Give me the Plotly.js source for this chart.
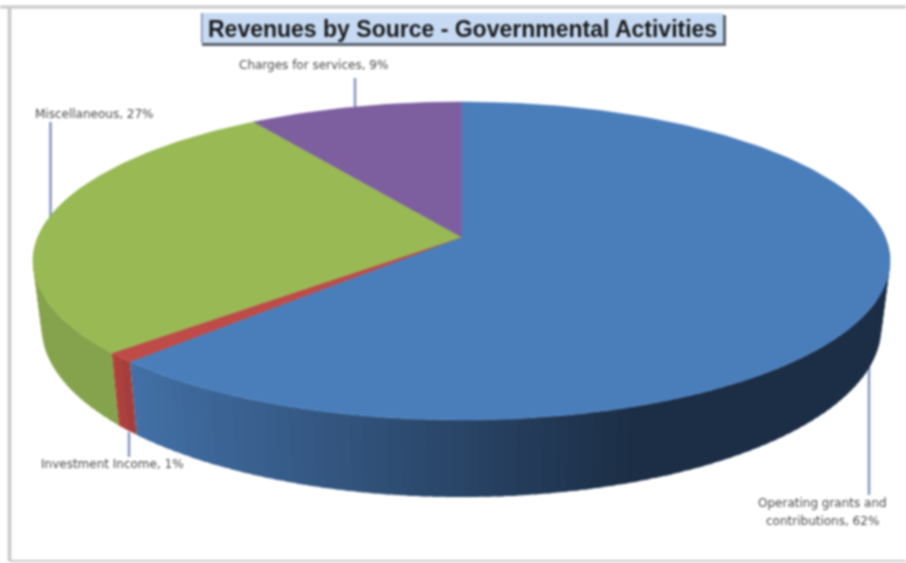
<!DOCTYPE html>
<html>
<head>
<meta charset="utf-8">
<script src="https://cdn.plot.ly/plotly-3.0.1.min.js"></script>
<style>
html,body{margin:0;padding:0;background:#fff;overflow:hidden}
#chart{width:906px;height:563px;filter:blur(0.8px)}
</style>
</head>
<body>
<div id="chart"></div>
<script>
// Data
const categoryLines = [["Operating grants and", "contributions"], ["Investment Income"], ["Miscellaneous"], ["Charges for services"]];
const values = [62.3, 1.0, 27.4, 9.3];
const percentLabels = ["62%", "1%", "27%", "9%"];
const chartTitle = "Revenues by Source - Governmental Activities";

// Styles
const topColors = ["#4a7ebb", "#be4b48", "#98b954", "#7d5fa0"];
const wallLit = [[66,112,166], [160,60,58], [133,163,77], [100,75,130]];
const wallDark = [[28,46,70], [178,66,62], [133,163,77], [100,75,130]];

// Projection of the tilted disc (axes run in page pixels)
const CX = 461.5, TOPY = 237, K = 0.151;
const TOP = {a:155.4, b:423.6, y:TOPY};
const BOT = {a:166, b:415, y:301.5};
function project(deg, d){
  const r = deg*Math.PI/180, w = 1 + K*Math.cos(r);
  return [CX + d.b*Math.sin(r)/w, d.y - d.a*Math.cos(r)/w];
}
const total = values.reduce((s,v)=>s+v,0);
const bounds = [0];
values.forEach(v=>bounds.push(bounds[bounds.length-1] + v/total*360));

const traces = [];
function poly(xs, ys, color, lw){
  traces.push({type:"scatter", mode:"lines", x:xs, y:ys, fill:"toself", fillcolor:color,
    line:{color:color, width:lw}, hoverinfo:"skip", showlegend:false});
}
function mix(a,b,t){return "rgb("+a.map((v,i)=>Math.round(v+(b[i]-v)*t)).join(",")+")";}

// Side wall: thin overlapping strips along the visible rim, painted right to left
const WALL_FROM = 70, WALL_TO = 290, STEP = 1.5;
const RAMP_X0 = 135, RAMP_X1 = 628;
function wallColor(i, deg){
  if(i===0){
    const x = project(deg,BOT)[0];
    return mix(wallLit[0], wallDark[0], Math.min(1, Math.max(0,(x-RAMP_X0)/(RAMP_X1-RAMP_X0))));
  }
  return mix(wallLit[i], wallDark[i], (deg-bounds[i])/(bounds[i+1]-bounds[i]));
}
values.forEach((v,i)=>{
  const from = Math.max(bounds[i], WALL_FROM), to = Math.min(bounds[i+1], WALL_TO);
  for(let d=from; d<to; d+=STEP){
    const e = Math.min(d+STEP*1.6, to);
    const a=project(d,TOP), b=project(e,TOP), c=project(e,BOT), f=project(d,BOT);
    poly([a[0],b[0],c[0],f[0],a[0]],[a[1],b[1],c[1],f[1],a[1]],wallColor(i,d+STEP/2),0);
  }
});

// Top face
values.forEach((v,i)=>{
  const xs=[CX], ys=[TOPY];
  for(let d=bounds[i]; d<bounds[i+1]; d+=1){const p=project(d,TOP); xs.push(p[0]); ys.push(p[1]);}
  const p=project(bounds[i+1],TOP); xs.push(p[0],CX); ys.push(p[1],TOPY);
  poly(xs,ys,topColors[i],0.6);
});

const leader = (x,y0,y1)=>({type:"line",layer:"below",x0:x,x1:x,y0:y0,y1:y1,xref:"x",yref:"y",line:{color:"#8295c0",width:2.5}});
const frame = (x0,y0,x1,y1,w)=>({type:"line",layer:"below",x0,x1,y0,y1,xref:"x",yref:"y",line:{color:"#c8c8c8",width:w}});
const band = (x0,y0,x1,y1,c)=>({type:"rect",layer:"below",x0,x1,y0,y1,xref:"x",yref:"y",fillcolor:c,line:{width:0}});

const labelFont = {family:"'DejaVu Sans', sans-serif", size:12, color:"#4a4a4a"};
const text = (t,x,y)=>({text:t,x,y,xref:"x",yref:"y",showarrow:false,font:labelFont,xanchor:"center",yanchor:"middle"});
function label(i,x,y,gap){
  const lines = categoryLines[i];
  return lines.map((l,k)=>text(l+(k===lines.length-1?", "+percentLabels[i]:""),x,y+k*gap));
}

const layout = {
  width:906,height:563,margin:{l:0,r:0,t:0,b:0,pad:0},
  paper_bgcolor:"#ffffff",plot_bgcolor:"#ffffff",showlegend:false,
  xaxis:{range:[0,906],visible:false,fixedrange:true},
  yaxis:{range:[563,0],visible:false,fixedrange:true},
  shapes:[
    frame(0,7,906,7,3), frame(9.5,7,9.5,561,3.5), frame(9.5,561,906,561,2),
    band(202,15,726,46,"#5a626e"),
    band(201,13,723,43,"#c6daf3"),
    band(201,13,202.5,43,"#7f8ea3"),
    leader(355,78,108), leader(50.5,122,218), leader(129,432,457), leader(869,362,495)
  ],
  annotations:[
    {text:"<b>"+chartTitle+"</b>",x:462.5,y:29,xref:"x",yref:"y",showarrow:false,
     font:{family:"'Liberation Sans', Arial, sans-serif",size:23,color:"#1a1a1a"},xanchor:"center",yanchor:"middle"},
    ...label(3,313,65,0), ...label(2,94,114,0), ...label(1,112,464,0), ...label(0,822,503,18)
  ]
};
Plotly.newPlot("chart",traces,layout,{displayModeBar:false,staticPlot:true});
</script>
</body>
</html>
